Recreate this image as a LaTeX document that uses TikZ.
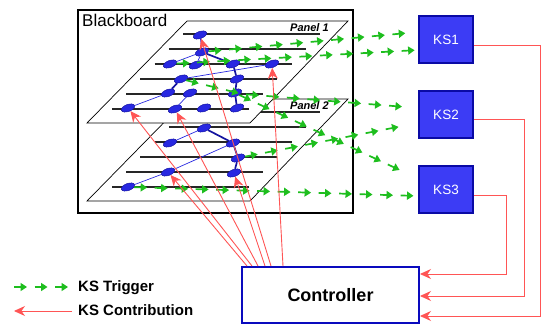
\documentclass[tikz,border=0pt]{standalone}
\usepackage{fontspec}
\setmainfont{Liberation Sans}
\usetikzlibrary{shapes.geometric, arrows.meta, decorations.markings}
\definecolor{knblue}{RGB}{40,40,225}
\definecolor{knedge}{RGB}{20,20,160}
\definecolor{ksblue}{RGB}{60,60,245}
\definecolor{ksedge}{RGB}{10,10,165}
\definecolor{ctrlblue}{RGB}{10,10,190}
\definecolor{trggreen}{RGB}{30,190,30}
\definecolor{contribred}{RGB}{255,85,85}
\newcommand{\drawpanel}[3]{
  \filldraw[fill=white, draw=black, line width=.7pt] (187, 21 + #1) -- (348, 21 + #1)
    -- (250, 123 + #1) -- (87, 123 + #1) -- cycle;
  \foreach \i in {0, ..., 5}
    \draw[black!85, line width=1.2pt] (183 - 14.2 * \i, 34 + 15 * \i + #1)
      -- (320 - 14.2 * \i, 34 + 15 * \i + #1);
  \node (#2) [panellabel, anchor=base west] at (290, 32 + #1) {#3};
}
\tikzset{
  kn/.style={ellipse, draw=knedge, fill=knblue, line width=.5pt, minimum width=14pt,
    minimum height=7pt, inner sep=0pt, rotate=20},
  thin link/.style={draw=knblue, line width=.7pt},
  thick link/.style={draw=knedge, line width=1.7pt},
  panellabel/.style={font=\bfseries\itshape\fontsize{11}{13}\selectfont, inner sep=0pt},
  ksbox/.style={draw=ksedge, fill=ksblue, line width=1.6pt, minimum width=54pt,
    minimum height=47pt, text=white, font=\fontsize{13.5}{15}\selectfont},
  legend/.style={font=\bfseries\fontsize{15}{17}\selectfont, inner sep=0pt},
  trigger/.style={decoration={markings, mark=between positions 0pt and -13pt step 20.5pt
    with {\draw[trggreen, line width=1.7pt, -{Triangle[length=6.5pt, width=8pt]}]
    (0pt, 0pt) -- (13pt, 0pt);}}, decorate},
  contrib/.style={draw=contribred, line width=.9pt, -{Stealth[length=11pt, width=10pt]}},
}
\begin{document}
\begin{tikzpicture}[x=1pt, y=-1pt]
  \useasboundingbox (0, 0) rectangle (541, 326);
  \draw[line width=2.4pt] (78, 10) rectangle (353, 213);
  \node (bbtitle) [anchor=base west, inner sep=0pt, font=\fontsize{17}{19}\selectfont]
    at (82, 27) {Blackboard};

  \drawpanel{78}{panel2}{Panel 2}
  \foreach \name/\x/\y in {p2a/204/128, p2b/170/143, p2c/233/143, p2d/238/158,
      p2e/234/173, p2f/168/172, p2g/128/187}
    \node[kn] (\name) at (\x, \y) {};
  \foreach \a/\b in {p2a/p2b, p2c/p2f, p2f/p2g}
    \draw[thin link] (\a) -- (\b);
  \foreach \a/\b in {p2a/p2c, p2c/p2d, p2d/p2e}
    \draw[thick link] (\a) -- (\b);

  \drawpanel{0}{panel1}{Panel 1}
  \foreach \name/\x/\y in {p1a/200/35, p1b/202/52, p1c/170/64, p1d/196/65, p1e/233/64,
      p1f/272/64, p1g/181/79, p1h/237/79, p1i/168/93, p1j/190/93, p1k/235/93,
      p1l/128/108, p1m/175/109, p1n/204/108, p1o/237/108}
    \node[kn] (\name) at (\x, \y) {};
  \foreach \a/\b in {p1a/p1b, p1b/p1c, p1b/p1d, p1f/p1g, p1i/p1l, p1j/p1m}
    \draw[thin link] (\a) -- (\b);
  \foreach \a/\b in {p1b/p1e, p1e/p1h, p1h/p1k, p1k/p1o, p1g/p1i}
    \draw[thick link] (\a) -- (\b);

  \node[ksbox] (ks1) at (446, 39.5) {KS1};
  \node[ksbox] (ks2) at (446, 114.5) {KS2};
  \node[ksbox] (ks3) at (446, 189.5) {KS3};
  \node[draw=ctrlblue, fill=white, line width=2pt, minimum width=177pt, minimum height=56pt,
    font=\bfseries\fontsize{18}{20}\selectfont] (ctrl) at (330.5, 295) {Controller};

  \coordinate (bend) at (242, 94);
  \path[trigger] (p1b) -- ([yshift=7.5pt]ks1.west);
  \path[trigger] (p1c) -- ([yshift=-10.5pt]ks1.west);
  \path[trigger] (p1g) -- (bend) -- ([yshift=6.5pt]ks2.west);
  \path[trigger] (p1k) -- ([shift={(-10pt, 15.5pt)}]ks3.west);
  \path[trigger] (p2d) -- ([yshift=-8.5pt]ks2.west);
  \path[trigger] (p2g) -- ([yshift=-6.5pt]ks3.west);

  \foreach \dx/\target in {6/p2f, 11/p1l, 17/p1m, 24/p2e, 30/p1a, 42/p1f}
    \draw[contrib] ([xshift=\dx pt]ctrl.north west) -- (\target);
  \draw[contrib] ([yshift=-5.5pt]ks1.east) -- ++(67, 0) |- ([yshift=-21pt]ctrl.east);
  \draw[contrib] ([yshift=-4.5pt]ks2.east) -- ++(51, 0) |- ([yshift=-1pt]ctrl.east);
  \draw[contrib] ([yshift=-5.5pt]ks3.east) -- ++(33, 0) |- ([yshift=21pt]ctrl.east);

  \coordinate (trigfrom) at (14, 287);
  \coordinate (trigto) at (74, 287);
  \path[trigger] (trigfrom) -- (trigto);
  \node (trigtext) [legend, anchor=base west] at (78, 291) {KS Trigger};
  \coordinate (contribfrom) at (72, 311);
  \coordinate (contribto) at (14, 311);
  \draw[contrib] (contribfrom) -- (contribto);
  \node (contribtext) [legend, anchor=base west] at (78, 315) {KS Contribution};
\end{tikzpicture}
\end{document}
